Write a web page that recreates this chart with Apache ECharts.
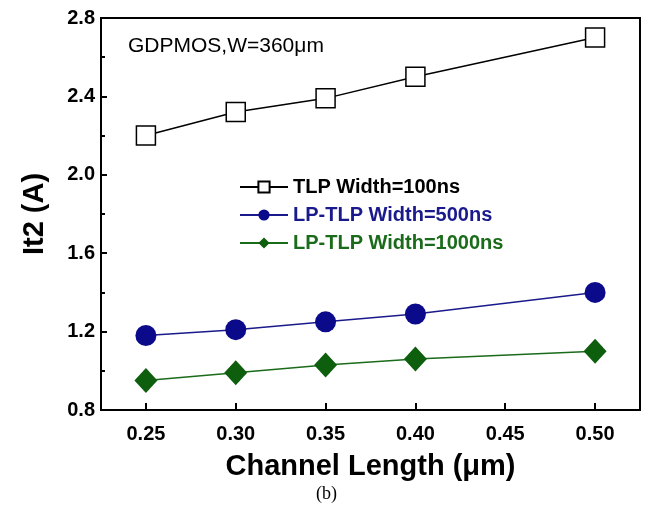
<!DOCTYPE html>
<html>
<head>
<meta charset="utf-8">
<script src="https://cdn.jsdelivr.net/npm/echarts@6/dist/echarts.min.js"></script>
<style>
  html, body { margin: 0; padding: 0; background: #fff; }
  #chart { width: 652px; height: 512px; }
</style>
</head>
<body>
<div id="chart"></div>
<script>
// channel length (um)
var channelLength = [0.25, 0.30, 0.35, 0.40, 0.50];
var tlp100 = [2.20, 2.32, 2.39, 2.50, 2.70];
var lptlp500 = [1.18, 1.21, 1.25, 1.29, 1.40];
var lptlp1000 = [0.95, 0.99, 1.03, 1.06, 1.10];
var seriesNames = ['TLP Width=100ns', 'LP-TLP Width=500ns', 'LP-TLP Width=1000ns'];

function pairs(ys) {
    return channelLength.map(function (x, i) { return [x, ys[i]]; });
}

var font = 'Liberation Sans, Arial, sans-serif';
var chart = echarts.init(document.getElementById('chart'));

var option = {
    backgroundColor: '#fff',
    animation: false,
    grid: {
        left: 101, right: 12, top: 18, bottom: 102,
        show: true, borderColor: '#000', borderWidth: 2
    },
    title: {
        text: 'GDPMOS,W=360\u03bcm',
        left: 123, top: 31,
        textStyle: { fontFamily: font, fontSize: 21, fontWeight: 'normal', color: '#000' }
    },
    legend: {
        orient: 'vertical',
        left: 234, top: 172,
        itemGap: 8,
        itemWidth: 48,
        itemHeight: 14,
        textStyle: { fontFamily: font, fontSize: 20, fontWeight: 'bold' },
        data: [
            { name: seriesNames[0], textStyle: { color: '#000' } },
            { name: seriesNames[1], textStyle: { color: '#1a1a8c' } },
            { name: seriesNames[2], textStyle: { color: '#1a6b1a' } }
        ]
    },
    xAxis: {
        type: 'value',
        min: 0.225, max: 0.525,
        interval: 0.05,
        name: 'Channel Length (\u03bcm)',
        nameLocation: 'middle',
        nameGap: 42,
        nameTextStyle: { fontFamily: font, fontSize: 29, fontWeight: 'bold', color: '#000' },
        axisLine: { lineStyle: { color: '#000', width: 2 } },
        axisTick: { inside: true, length: 7, lineStyle: { width: 2, color: '#000' },
            customValues: [0.25, 0.30, 0.35, 0.40, 0.45, 0.50] },
        axisLabel: {
            fontFamily: font, fontSize: 20, fontWeight: 'bold', color: '#000', margin: 14,
            customValues: [0.25, 0.30, 0.35, 0.40, 0.45, 0.50],
            formatter: function (v) { return v.toFixed(2); }
        },
        splitLine: { show: false }
    },
    yAxis: {
        type: 'value',
        min: 0.8, max: 2.8,
        interval: 0.4,
        name: 'It2 (A)',
        nameLocation: 'middle',
        nameGap: 52,
        nameTextStyle: { fontFamily: font, fontSize: 29, fontWeight: 'bold', color: '#000' },
        axisLine: { show: true, lineStyle: { color: '#000', width: 2 } },
        axisTick: { inside: true, length: 6, lineStyle: { width: 2, color: '#000' } },
        minorTick: { show: true, splitNumber: 2, length: 4, lineStyle: { width: 2, color: '#000' } },
        axisLabel: {
            fontFamily: font, fontSize: 20, fontWeight: 'bold', color: '#000', margin: 6,
            formatter: function (v) { return v.toFixed(1); }
        },
        splitLine: { show: false }
    },
    series: [
        {
            name: seriesNames[0], type: 'line', data: pairs(tlp100),
            symbol: 'rect', symbolSize: 19,
            lineStyle: { color: '#000', width: 1.5 },
            itemStyle: { color: '#fff', borderColor: '#000', borderWidth: 1.5 }
        },
        {
            name: seriesNames[1], type: 'line', data: pairs(lptlp500),
            symbol: 'circle', symbolSize: 21,
            lineStyle: { color: '#1a1a8c', width: 1.5 },
            itemStyle: { color: '#0a0a8a', borderColor: '#0a0a8a', borderWidth: 0 }
        },
        {
            name: seriesNames[2], type: 'line', data: pairs(lptlp1000),
            symbol: 'diamond', symbolSize: [23, 25],
            lineStyle: { color: '#1a6b1a', width: 1.5 },
            itemStyle: { color: '#0d5e0d', borderColor: '#0d5e0d', borderWidth: 0 }
        }
    ],
    graphic: [
        {
            type: 'text', left: 316, top: 485,
            style: { text: '(b)', fontFamily: 'Liberation Serif, Times New Roman, serif', fontSize: 18, fill: '#000' }
        }
    ]
};

chart.setOption(option);
</script>
</body>
</html>
